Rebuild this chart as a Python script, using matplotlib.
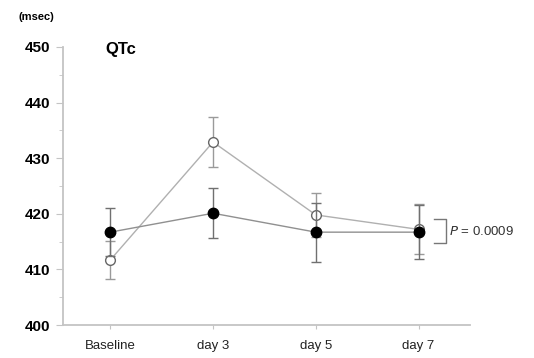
import matplotlib.pyplot as plt

plt.rcParams['font.family'] = ['Liberation Sans', 'DejaVu Sans']

days = ['Baseline', 'day 3', 'day 5', 'day 7']
closed_mean = [416.7, 420.1, 416.7, 416.7]
closed_err = [4.3, 4.5, 5.3, 4.8]
open_mean = [411.7, 432.9, 419.8, 417.2]
open_err = [3.4, 4.5, 4.0, 4.5]
yticks = [400, 410, 420, 430, 440, 450]

x = list(range(len(days)))

fig = plt.figure(figsize=(5.34, 3.58), dpi=100)
ax = fig.add_axes([0.118, 0.092, 0.762, 0.777])

gray = '#9a9a9a'
ax.errorbar(x, open_mean, yerr=open_err, color='#b0b0b0', lw=1, marker='o', ms=7,
            mfc='white', mec='#666666', mew=1, ecolor=gray, elinewidth=1,
            capsize=3.5, capthick=1, zorder=2)
ax.errorbar(x, closed_mean, yerr=closed_err, color='#909090', lw=1, marker='o',
            ms=7.5, mfc='black', mec='black', ecolor='#707070', elinewidth=1,
            capsize=3.5, capthick=1, zorder=3)

ax.set_xlim(-0.46, 3.5)
ax.set_ylim(400, 450)
ax.set_yticks(yticks)
ax.set_yticks(range(405, 450, 10), minor=True)
ax.set_xticks(x)
ax.set_xticklabels(days, fontsize=9.5, color='#222222')
ax.set_yticklabels([str(v) for v in yticks], fontsize=11, fontweight='bold')

for s in ['top', 'right']:
    ax.spines[s].set_visible(False)
for s in ['left', 'bottom']:
    ax.spines[s].set_color('#c4c4c4')
    ax.spines[s].set_linewidth(1.3)
ax.tick_params(axis='y', which='major', length=5, color='#c4c4c4', pad=4)
ax.tick_params(axis='y', which='minor', length=3, color='#c4c4c4')
ax.tick_params(axis='x', length=3, color='#c4c4c4', pad=8)

# P bracket between the two day-7 means
bx = 3.27
ax.plot([bx - 0.12, bx, bx, bx - 0.12], [419.0, 419.0, 414.8, 414.8],
        color='#777777', lw=1, clip_on=False)
ax.text(bx + 0.03, 416.9, '$\\it{P}$ = 0.0009', fontsize=9.5, va='center',
        ha='left', color='#333333')

ax.text(0.1, 449.5, 'QTc', fontsize=12, fontweight='bold', ha='center', va='center')
fig.text(0.035, 0.952, '(msec)', fontsize=8, fontweight='bold', ha='left', va='center')

fig.savefig('out.png', dpi=100)
